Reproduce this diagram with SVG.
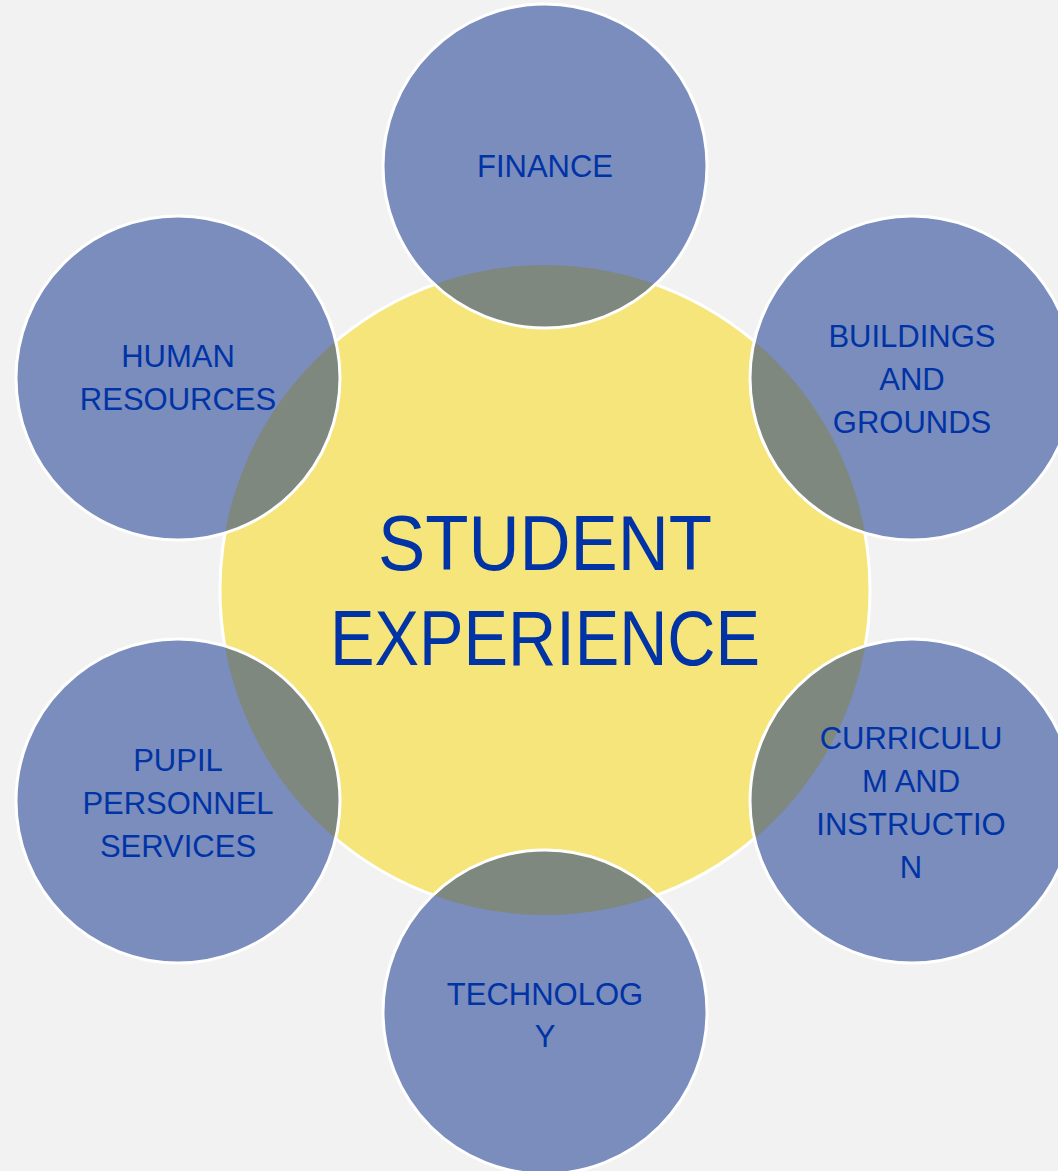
<svg xmlns="http://www.w3.org/2000/svg" width="1058" height="1171" viewBox="0 0 1058 1171">
<style>
.bg{fill:#f2f2f2}
.core{fill:#f6e57a;stroke:#ffffff;stroke-width:3}
.sat{fill:#7a8dbc}
.lens{fill:#7e887e}
.ring{fill:none;stroke:#ffffff;stroke-width:3}
.lbl{font-family:"Liberation Sans",Arial,sans-serif;font-size:31px;fill:#0033a6;text-anchor:middle}
.big{font-family:"Liberation Sans",Arial,sans-serif;font-size:78px;fill:#0033a6;text-anchor:middle}
</style>
<defs>
<clipPath id="coreClip"><circle cx="545" cy="590" r="325"/></clipPath>
</defs>
<rect class="bg" x="0" y="0" width="1058" height="1171"/>
<g id="connectors"></g>
<g id="student-experience">
<circle class="core" cx="545" cy="590" r="325"/>
</g>
<g id="finance">
<circle class="sat" cx="545" cy="166" r="162"/>
<circle class="lens" cx="545" cy="166" r="162" clip-path="url(#coreClip)"/>
<circle class="ring" cx="545" cy="166" r="162"/>
<text class="lbl" x="545" y="177">FINANCE</text>
</g>
<g id="human-resources">
<circle class="sat" cx="178" cy="378" r="162"/>
<circle class="lens" cx="178" cy="378" r="162" clip-path="url(#coreClip)"/>
<circle class="ring" cx="178" cy="378" r="162"/>
<text class="lbl" x="178" y="367">HUMAN</text>
<text class="lbl" x="178" y="410">RESOURCES</text>
</g>
<g id="buildings-and-grounds">
<circle class="sat" cx="912" cy="378" r="162"/>
<circle class="lens" cx="912" cy="378" r="162" clip-path="url(#coreClip)"/>
<circle class="ring" cx="912" cy="378" r="162"/>
<text class="lbl" x="912" y="347">BUILDINGS</text>
<text class="lbl" x="912" y="390">AND</text>
<text class="lbl" x="912" y="433">GROUNDS</text>
</g>
<g id="pupil-personnel-services">
<circle class="sat" cx="178" cy="801" r="162"/>
<circle class="lens" cx="178" cy="801" r="162" clip-path="url(#coreClip)"/>
<circle class="ring" cx="178" cy="801" r="162"/>
<text class="lbl" x="178" y="771">PUPIL</text>
<text class="lbl" x="178" y="814">PERSONNEL</text>
<text class="lbl" x="178" y="857">SERVICES</text>
</g>
<g id="curriculum-and-instruction">
<circle class="sat" cx="912" cy="801" r="162"/>
<circle class="lens" cx="912" cy="801" r="162" clip-path="url(#coreClip)"/>
<circle class="ring" cx="912" cy="801" r="162"/>
<text class="lbl" x="911" y="749">CURRICULU</text>
<text class="lbl" x="911" y="792">M AND</text>
<text class="lbl" x="911" y="835">INSTRUCTIO</text>
<text class="lbl" x="911" y="878">N</text>
</g>
<g id="technology">
<circle class="sat" cx="545" cy="1012" r="162"/>
<circle class="lens" cx="545" cy="1012" r="162" clip-path="url(#coreClip)"/>
<circle class="ring" cx="545" cy="1012" r="162"/>
<text class="lbl" x="545" y="1005">TECHNOLOG</text>
<text class="lbl" x="545" y="1047">Y</text>
</g>
<g id="center-label">
<text class="big" x="545" y="570" textLength="334" lengthAdjust="spacingAndGlyphs">STUDENT</text>
<text class="big" x="545" y="665" textLength="430" lengthAdjust="spacingAndGlyphs">EXPERIENCE</text>
</g>
</svg>
